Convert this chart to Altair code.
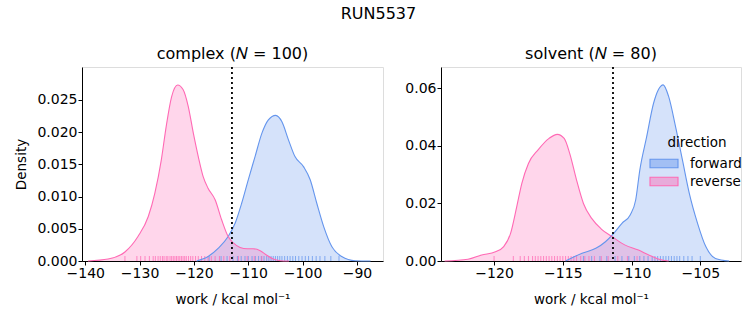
import altair as alt
import pandas as pd

# ---- density curves ----
complex_rev_x = [-139.5, -135.8, -132.7, -130.3, -128.4, -127.2, -126.0, -125.1, -124.1, -123.0, -122.0, -121.05,
                 -120.1, -119.2, -118.3, -117.4, -116.1, -114.9, -113.7, -112.75, -111.5, -110.2, -109.1, -107.8,
                 -106.6, -105.4, -104.1, -102.5]
complex_rev_d = [0, 0.0003, 0.0014, 0.0038, 0.0069, 0.0105, 0.0157, 0.0209, 0.0255, 0.0273, 0.0266, 0.0240,
                 0.0198, 0.0162, 0.0131, 0.0113, 0.0095, 0.0064, 0.0038, 0.0028, 0.0021, 0.0019, 0.0019, 0.0016,
                 0.0009, 0.0003, 0.00005, 0]
complex_fwd_x = [-119.5, -117.4, -115.5, -113.7, -112.4, -111.2, -110.0, -108.75, -107.5, -106.3, -104.95, -103.8,
                 -102.6, -101.4, -99.8, -98.6, -97.4, -96.1, -94.6, -92.8, -90.3, -87.5]
complex_fwd_d = [0, 0.0007, 0.0020, 0.0038, 0.0059, 0.0090, 0.0126, 0.0162, 0.0198, 0.0219, 0.0226, 0.0216,
                 0.0188, 0.0162, 0.0146, 0.0126, 0.0090, 0.0053, 0.0022, 0.0007, 0.00005, 0]
solvent_rev_x = [-123.6, -121.9, -120.9, -119.9, -119.3, -118.8, -118.35, -117.98, -117.5, -116.8, -116.0, -115.4,
                 -114.9, -114.5, -114.0, -113.5, -112.9, -112.2, -111.4, -110.5, -109.5, -108.75, -108.0, -107.3]
solvent_rev_d = [0, 0.0006, 0.0021, 0.0032, 0.0050, 0.0096, 0.0189, 0.0270, 0.0339, 0.0386, 0.0426, 0.0440,
                 0.0426, 0.0374, 0.0281, 0.0200, 0.0148, 0.0111, 0.0084, 0.0056, 0.0038, 0.0021, 0.0006, 0]
solvent_fwd_x = [-114.8, -113.6, -112.6, -111.9, -111.3, -110.7, -110.1, -109.7, -109.4, -108.9, -108.4, -107.7,
                 -107.3, -106.8, -106.3, -105.8, -105.2, -104.6, -103.9, -102.9]
solvent_fwd_d = [0, 0.0027, 0.0044, 0.0067, 0.0096, 0.0131, 0.0160, 0.0212, 0.0316, 0.0432, 0.0548, 0.0612,
                 0.0571, 0.0467, 0.0351, 0.0235, 0.0131, 0.0050, 0.0009, 0]

# ---- rug (individual work values, estimated) ----
complex_rev_rug = [-132.7, -130.5, -129.8, -129.0, -128.2, -127.5, -127.1, -126.6, -126.2, -125.8, -125.5, -125.1,
                   -124.8, -124.4, -124.1, -123.8, -123.5, -123.2, -122.9, -122.6, -122.3, -122.0, -121.7, -121.4,
                   -121.0, -120.6, -120.2, -119.7, -119.2, -118.6, -118.0, -117.4, -116.8, -116.1, -115.3, -114.5,
                   -113.4, -111.8, -110.2, -108.9, -107.5]
complex_fwd_rug = [-117.2, -115.0, -113.9, -112.8, -112.0, -111.3, -110.6, -110.0, -109.3, -108.7, -108.1, -107.6,
                   -107.1, -106.6, -106.2, -105.8, -105.4, -105.0, -104.6, -104.2, -103.8, -103.3, -102.8, -102.3,
                   -101.8, -101.3, -100.7, -100.1, -99.5, -98.9, -98.2, -97.5, -96.8, -95.9, -94.8, -93.3]
solvent_rev_rug = [-120.0, -118.6, -118.1, -117.8, -117.5, -117.2, -117.0, -116.8, -116.6, -116.4, -116.2, -116.0,
                   -115.8, -115.6, -115.4, -115.2, -115.0, -114.8, -114.6, -114.4, -114.2, -114.0, -113.7, -113.4,
                   -113.1, -112.7, -112.2, -111.7, -111.0, -110.3, -109.6]
solvent_fwd_rug = [-113.5, -112.9, -112.3, -111.8, -111.2, -110.7, -110.2, -109.8, -109.4, -109.1, -108.8, -108.5,
                   -108.3, -108.1, -107.9, -107.7, -107.5, -107.3, -107.1, -106.9, -106.7, -106.5, -106.2, -105.9,
                   -105.6, -105.0]

dividers = {"complex": -113.0, "solvent": -111.35}
titles = {"complex": "complex (𝑁 = 100)", "solvent": "solvent (𝑁 = 80)"}
directions = ["forward", "reverse"]
line_colors = ["#6495ED", "#FF69B4"]
fill_colors = ["rgba(100,149,237,0.45)", "rgba(255,105,180,0.45)"]

curves = pd.concat([
    pd.DataFrame({"panel": "complex", "direction": "forward", "work": complex_fwd_x, "density": complex_fwd_d}),
    pd.DataFrame({"panel": "complex", "direction": "reverse", "work": complex_rev_x, "density": complex_rev_d}),
    pd.DataFrame({"panel": "solvent", "direction": "forward", "work": solvent_fwd_x, "density": solvent_fwd_d}),
    pd.DataFrame({"panel": "solvent", "direction": "reverse", "work": solvent_rev_x, "density": solvent_rev_d}),
])
rugs = pd.concat([
    pd.DataFrame({"panel": "complex", "direction": "forward", "work": complex_fwd_rug}),
    pd.DataFrame({"panel": "complex", "direction": "reverse", "work": complex_rev_rug}),
    pd.DataFrame({"panel": "solvent", "direction": "forward", "work": solvent_fwd_rug}),
    pd.DataFrame({"panel": "solvent", "direction": "reverse", "work": solvent_rev_rug}),
])

H = 194
FONT = "DejaVu Sans"
RECT = "M-1.4,-0.42L1.4,-0.42L1.4,0.42L-1.4,0.42Z"


def panel(name, xdom, xticks, ydom, yticks, yfmt, ytitle, show_legend, width):
    c = curves[curves.panel == name]
    r = rugs[rugs.panel == name]
    xsc = alt.Scale(domain=xdom, nice=False, zero=False)
    ysc = alt.Scale(domain=ydom, nice=False, zero=False)
    xax = alt.Axis(values=xticks, format="d", title="work / kcal mol⁻¹", grid=False, labelOverlap=False)
    yax = alt.Axis(values=yticks, tickCount=len(yticks), format=yfmt, title=ytitle, grid=False,
                   labelOverlap=False, labelSeparation=0, labelBound=False)
    if show_legend:
        leg = alt.Legend(title="direction", orient="none", legendX=212, legendY=69,
                         symbolType=RECT, symbolSize=400, symbolStrokeWidth=1.1, symbolOpacity=1,
                         labelFontSize=13.5, titleFontSize=13.5, titleFontWeight="normal",
                         titleAnchor="middle", titlePadding=3, rowPadding=0, labelOffset=15)
    else:
        leg = None
    fscale = alt.Scale(domain=directions, range=fill_colors)
    sscale = alt.Scale(domain=directions, range=line_colors)
    area = alt.Chart(c).mark_area(fillOpacity=0.6, interpolate="monotone").encode(
        x=alt.X("work:Q", scale=xsc, axis=xax),
        y=alt.Y("density:Q", scale=ysc, axis=yax, stack=None),
        fill=alt.Fill("direction:N", scale=fscale, legend=leg),
    )
    line = alt.Chart(c).mark_line(strokeWidth=1.1, interpolate="monotone").encode(
        x=alt.X("work:Q", axis=xax),
        y=alt.Y("density:Q", axis=yax),
        stroke=alt.Stroke("direction:N", scale=sscale, legend=leg),
        detail="direction:N",
    )
    rug = alt.Chart(r).mark_rule(strokeWidth=1, opacity=0.75).encode(
        x=alt.X("work:Q", axis=xax),
        y=alt.value(H - 5),
        y2=alt.value(H),
        stroke=alt.Stroke("direction:N", scale=sscale, legend=leg),
    )
    vline = alt.Chart(pd.DataFrame({"work": [dividers[name]]})).mark_rule(
        color="black", strokeWidth=1.8, strokeDash=[2, 3]).encode(x=alt.X("work:Q", axis=xax))
    return alt.layer(area, rug, line, vline).properties(
        width=width, height=H,
        title=alt.Title(titles[name], fontSize=16, fontWeight="normal", offset=4),
    )


left = panel("complex", [-140.6, -85.2], [-140, -130, -120, -110, -100, -90], [0, 0.0301],
             [0, 0.005, 0.01, 0.015, 0.02, 0.025], ".3f", "Density", False, 301)
right = panel("solvent", [-123.86, -102.04], [-120, -115, -110, -105], [0, 0.0674],
              [0, 0.02, 0.04, 0.06], ".2f", None, True, 300)

chart = alt.hconcat(left, right, spacing=20).resolve_scale(fill="independent", stroke="independent").properties(
    title=alt.Title("RUN5537", fontSize=16, fontWeight="normal", anchor="middle", offset=24),
    padding={"left": 14, "top": 5, "right": 5, "bottom": 5},
).configure_view(stroke=None).configure(font=FONT).configure_axis(
    domainColor="black", tickColor="black", labelColor="black", titleColor="black",
    labelFontSize=14, titleFontSize=13.5, titleFontWeight="normal", tickSize=4, labelPadding=1,
    titlePadding=12, domainWidth=1, tickWidth=1, labelOverlap=False,
).configure_axisY(titlePadding=8).configure_title(color="black", font=FONT).configure_legend(
    labelColor="black", titleColor="black")

chart.save("out.html", embed_options={"renderer": "svg", "actions": False})
